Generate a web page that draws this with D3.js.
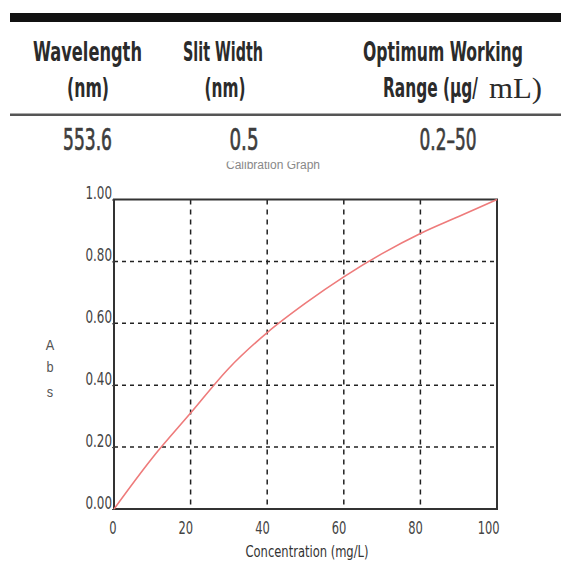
<!DOCTYPE html>
<html lang="en">
<head>
<meta charset="UTF-8">
<title>Calibration Graph</title>
<script src="https://d3js.org/d3.v7.min.js"></script>
<style>
    body { margin: 0; background: #fff; }
    svg { display: block; }
    .narrow { font-family: 'Liberation Sans Narrow', 'DejaVu Sans Condensed', sans-serif; }
</style>
</head>
<body>
<svg></svg>
<script>
    // table above the graph
    const headerRow1 = ["Wavelength", "Slit Width", "Optimum Working"];
    const headerRow2 = ["(nm)", "(nm)", "Range (μg/"];
    const valueRow = ["553.6", "0.5", "0.2–50"];

    // calibration curve
    const concentration = [0, 10, 20, 30, 40, 50, 60, 70, 80, 90, 100];
    const absorbance = [0, 0.165, 0.31, 0.455, 0.57, 0.665, 0.75, 0.825, 0.89, 0.945, 1.0];
    const xTicks = [0, 20, 40, 60, 80, 100];
    const yTicks = [0, 0.2, 0.4, 0.6, 0.8, 1.0];

    const width = 561, height = 561;
    const plot = { left: 114, right: 497, top: 199.5, bottom: 509 };

    const svg = d3.select("svg").attr("width", width).attr("height", height);

    // squeeze a text horizontally around its x so it is w pixels wide
    function fit(sel, w) {
        sel.each(function (d, i) {
            const target = typeof w === "function" ? w(d, i) : w;
            const s = target / this.getComputedTextLength();
            const x = +this.getAttribute("x") || 0;
            d3.select(this).attr("transform", `translate(${x},0) scale(${s},1) translate(${-x},0)`);
        });
    }
    function squeeze(sel, s) {
        sel.each(function () {
            const x = +this.getAttribute("x") || 0;
            d3.select(this).attr("transform", `translate(${x},0) scale(${s},1) translate(${-x},0)`);
        });
    }

    // ---- table ----
    svg.append("rect").attr("x", 10).attr("y", 13).attr("width", 551).attr("height", 9).attr("fill", "#111");
    svg.append("rect").attr("x", 10).attr("y", 113.5).attr("width", 551).attr("height", 2.5).attr("fill", "#555");

    const colX1 = [87.5, 223, 443];
    const len1 = [109, 80, 160];
    svg.selectAll(".h1").data(headerRow1).join("text")
        .attr("class", "narrow")
        .attr("x", (d, i) => colX1[i]).attr("y", 61)
        .attr("text-anchor", "middle")
        .attr("font-size", 27).attr("font-weight", "bold").attr("fill", "#2b2b2b")
        .text(d => d)
        .call(fit, (d, i) => len1[i]);

    const colX2 = [88, 225, 383];
    const len2 = [42, 41, 95];
    svg.selectAll(".h2").data(headerRow2).join("text")
        .attr("class", "narrow")
        .attr("x", (d, i) => colX2[i]).attr("y", 97)
        .attr("text-anchor", (d, i) => i === 2 ? "start" : "middle")
        .attr("font-size", 27).attr("font-weight", "bold").attr("fill", "#2b2b2b")
        .text(d => d)
        .call(fit, (d, i) => len2[i]);
    svg.append("text")
        .attr("x", 489).attr("y", 98)
        .attr("font-family", "'Liberation Serif', 'DejaVu Serif', serif")
        .attr("font-size", 29).attr("fill", "#2b2b2b")
        .text("mL)")
        .call(fit, 53);

    const colX3 = [87.5, 244, 448];
    const len3 = [49, 29, 57];
    svg.selectAll(".v").data(valueRow).join("text")
        .attr("class", "narrow")
        .attr("x", (d, i) => colX3[i]).attr("y", 150)
        .attr("text-anchor", "middle")
        .attr("font-size", 30).attr("fill", "#3d3d3d")
        .attr("stroke", "#3d3d3d").attr("stroke-width", 0.7)
        .text(d => d)
        .call(fit, (d, i) => len3[i]);

    // graph title, mostly hidden under the table
    svg.append("clipPath").attr("id", "titleClip")
        .append("rect").attr("x", 200).attr("y", 161.5).attr("width", 160).attr("height", 20);
    svg.append("text")
        .attr("clip-path", "url(#titleClip)")
        .attr("font-family", "Arial, sans-serif")
        .attr("x", 273).attr("y", 168.5).attr("text-anchor", "middle")
        .attr("font-size", 12).attr("fill", "#888")
        .text("Calibration Graph");

    // ---- graph ----
    const x = d3.scaleLinear().domain([0, 100]).range([plot.left, plot.right]);
    const y = d3.scaleLinear().domain([0, 1]).range([plot.bottom, plot.top]);

    // grid
    svg.append("g").selectAll("line").data(xTicks.slice(1, -1)).join("line")
        .attr("x1", d => x(d)).attr("x2", d => x(d))
        .attr("y1", plot.top).attr("y2", plot.bottom)
        .attr("stroke", "#222").attr("stroke-width", 1.5).attr("stroke-dasharray", "5,5");
    svg.append("g").selectAll("line").data(yTicks.slice(1, -1)).join("line")
        .attr("x1", plot.left).attr("x2", plot.right)
        .attr("y1", d => y(d)).attr("y2", d => y(d))
        .attr("stroke", "#222").attr("stroke-width", 1.5).attr("stroke-dasharray", "4,4");

    // frame
    svg.append("rect")
        .attr("x", plot.left).attr("y", plot.top)
        .attr("width", plot.right - plot.left).attr("height", plot.bottom - plot.top)
        .attr("fill", "none").attr("stroke", "#333").attr("stroke-width", 2);

    // axes
    const xAxis = svg.append("g")
        .attr("transform", `translate(0,${plot.bottom})`)
        .call(d3.axisBottom(x).tickValues(xTicks).tickFormat(d3.format("d")).tickSize(0).tickPadding(12.5));
    xAxis.select(".domain").remove();
    xAxis.selectAll("text")
        .attr("class", "narrow").attr("font-size", 17).attr("fill", "#444")
        .attr("text-anchor", "end").attr("x", 2)
        .call(squeeze, 0.75);

    const yAxis = svg.append("g")
        .attr("transform", `translate(${plot.left},0)`)
        .call(d3.axisLeft(y).tickValues(yTicks).tickFormat(d3.format(".2f")).tickSize(2).tickPadding(0));
    yAxis.select(".domain").remove();
    yAxis.selectAll("line").attr("stroke", "#444");
    yAxis.selectAll("text")
        .attr("class", "narrow").attr("font-size", 17).attr("fill", "#444")
        .attr("dy", -1)
        .call(squeeze, 0.78);

    // axis titles
    svg.append("text")
        .attr("class", "narrow")
        .attr("x", 307).attr("y", 557).attr("text-anchor", "middle")
        .attr("font-size", 16).attr("fill", "#333")
        .text("Concentration (mg/L)")
        .call(fit, 123);

    svg.append("g").selectAll("text").data(["A", "b", "s"]).join("text")
        .attr("font-family", "Arial, sans-serif")
        .attr("x", 50).attr("y", (d, i) => [350, 372, 397][i])
        .attr("text-anchor", "middle")
        .attr("font-size", 15).attr("fill", "#555")
        .text(d => d)
        .call(squeeze, 0.85);

    // curve
    const line = d3.line()
        .x((d, i) => x(concentration[i]))
        .y(d => y(d))
        .curve(d3.curveMonotoneX);

    svg.append("path")
        .datum(absorbance)
        .attr("fill", "none")
        .attr("stroke", "#ee7b7b")
        .attr("stroke-width", 1.6)
        .attr("d", line);
</script>
</body>
</html>
